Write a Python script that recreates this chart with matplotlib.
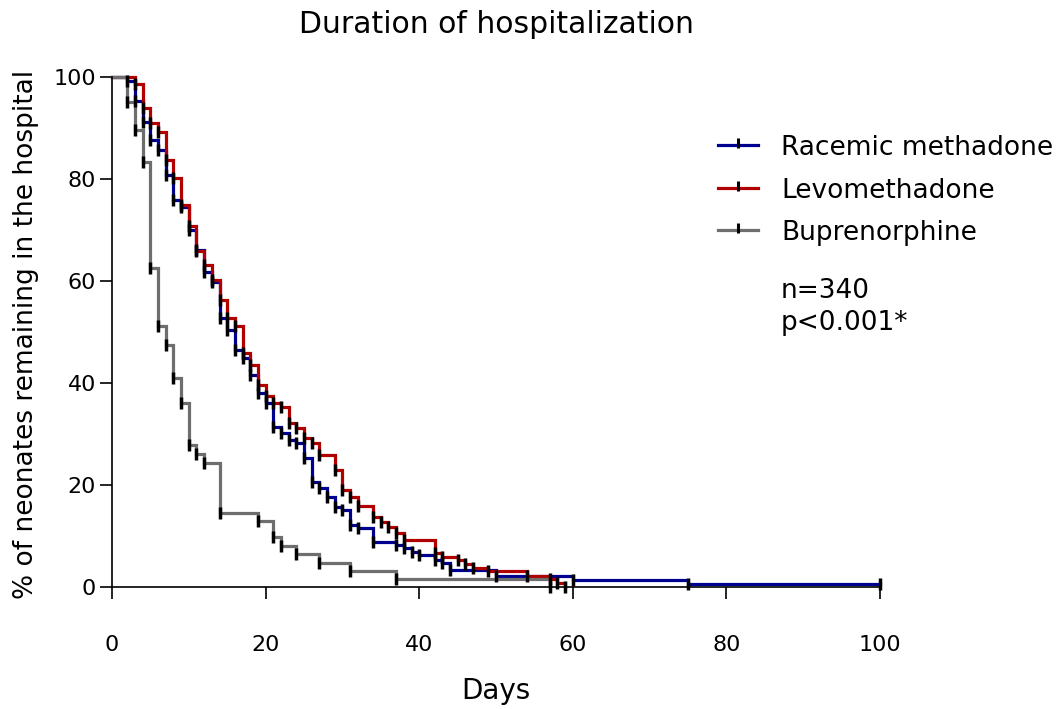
import matplotlib
matplotlib.use("Agg")
import matplotlib.pyplot as plt
from matplotlib.lines import Line2D

# ---- data ----
racemic_days = [0, 2, 3, 4, 5, 6, 7, 8, 9, 10, 11, 12, 13, 14, 15, 16, 17, 18, 19, 20,
                21, 22, 23, 24, 25, 26, 27, 28, 29, 30, 31, 32, 34, 37, 38, 39, 40, 42,
                43, 44, 50, 60, 75, 100]
racemic_pct = [100, 99.2, 95.2, 91.2, 87.6, 85.7, 80.8, 75.9, 74.6, 70.0, 66.1, 61.8, 59.9,
               52.7, 50.4, 46.5, 45.0, 41.6, 38.0, 36.0, 31.4, 30.1, 28.8, 28.2, 25.2, 20.6,
               19.4, 17.7, 15.7, 15.1, 12.2, 11.5, 8.9, 8.2, 7.6, 6.9, 6.3, 5.3, 4.7, 3.4,
               2.1, 1.3, 0.6, 0.6]

levo_days = [0, 3, 4, 5, 6, 7, 8, 9, 10, 11, 12, 13, 14, 15, 16, 17, 18, 19, 20, 21, 22,
             23, 24, 25, 26, 27, 29, 30, 31, 32, 34, 35, 36, 37, 38, 42, 43, 45, 46, 47,
             49, 54, 57, 58, 59]
levo_pct = [100, 98.6, 93.9, 90.9, 89.3, 83.7, 80.1, 74.9, 70.8, 65.8, 63.1, 60.2, 56.3,
            52.7, 51.2, 45.8, 43.5, 39.6, 37.5, 36.0, 35.2, 32.1, 31.1, 29.2, 28.3, 25.9,
            22.9, 19.0, 17.7, 15.9, 13.8, 12.8, 11.8, 10.5, 9.2, 6.6, 5.9, 5.3, 4.5, 3.8,
            3.2, 2.2, 1.5, 0.7, 0.0]

bup_days = [0, 2, 3, 4, 5, 6, 7, 8, 9, 10, 11, 12, 14, 19, 21, 22, 24, 27, 31, 37, 57]
bup_pct = [100, 95.0, 89.7, 83.4, 62.5, 51.2, 47.5, 41.0, 36.1, 27.8, 26.1, 24.4, 14.6,
           12.9, 9.9, 8.1, 6.5, 4.8, 3.2, 1.5, 0.0]

group_names = ["Racemic methadone", "Levomethadone", "Buprenorphine"]
group_colors = ["#00008f", "#b00000", "#6e6e6e"]
x_ticks = [0, 20, 40, 60, 80, 100]
y_ticks = [0, 20, 40, 60, 80, 100]
title = "Duration of hospitalization"
x_label = "Days"
y_label = "% of neonates remaining in the hospital"
annot = ["n=340", "p<0.001*"]

# ---- figure ----
W, H = 1064, 709
fig = plt.figure(figsize=(W / 100, H / 100), dpi=100)
plt.rcParams['font.family'] = ['DejaVu Sans']
ax = fig.add_axes([112 / W, 1 - 587 / H, 768 / W, 510 / H])

series = [(racemic_days, racemic_pct), (levo_days, levo_pct), (bup_days, bup_pct)]
order = [1, 0, 2]
for i in order:
    d, p = series[i]
    ax.step(d, p, where='post', color=group_colors[i], lw=2.3, clip_on=False,
            zorder=2 + i * 0.1, solid_joinstyle='miter')
for i in order:
    d, p = series[i]
    ax.plot(d[1:], p[1:], ls='none', marker='|', ms=8, mew=2.5, color='black',
            clip_on=False, zorder=4)

ax.set_xlim(0, 100)
ax.set_ylim(0, 100)
ax.set_xticks(x_ticks)
ax.set_yticks(y_ticks)
for s in ['top', 'right']:
    ax.spines[s].set_visible(False)
for s in ['left', 'bottom']:
    ax.spines[s].set_linewidth(1.2)
ax.tick_params(axis='both', direction='out', length=8.5, width=1.2, labelsize=16)
ax.tick_params(axis='x', pad=26)
ax.tick_params(axis='y', pad=3)

ax.set_xlabel(x_label, fontsize=20)
ax.xaxis.label.set_va('baseline')
ax.xaxis.set_label_coords(0.5, (587 - 699) / 510)
ax.set_ylabel(y_label, fontsize=19)
ax.yaxis.label.set_va('center')
ax.yaxis.set_label_coords((26 - 112) / 768, (587 - 334) / 510)

fig.text(496 / W, 1 - 33 / H, title, ha='center', va='baseline', fontsize=21.5)

# legend (manual, in figure pixel coordinates)
hand_y = [145, 188, 230]
text_base = [155, 198, 240]
for i in range(3):
    yy = 1 - hand_y[i] / H
    fig.add_artist(Line2D([718 / W, 758 / W], [yy, yy], color=group_colors[i], lw=2.3,
                          transform=fig.transFigure))
    fig.add_artist(Line2D([738 / W], [yy + 2 / H], marker='|', ms=7, mew=2.2,
                          color='black', transform=fig.transFigure))
    fig.text(781 / W, 1 - text_base[i] / H, group_names[i], ha='left', va='baseline',
             fontsize=19)
fig.text(781 / W, 1 - 298 / H, annot[0], ha='left', va='baseline', fontsize=19)
fig.text(781 / W, 1 - 330 / H, annot[1], ha='left', va='baseline', fontsize=19)

fig.savefig("out.png", dpi=100)
